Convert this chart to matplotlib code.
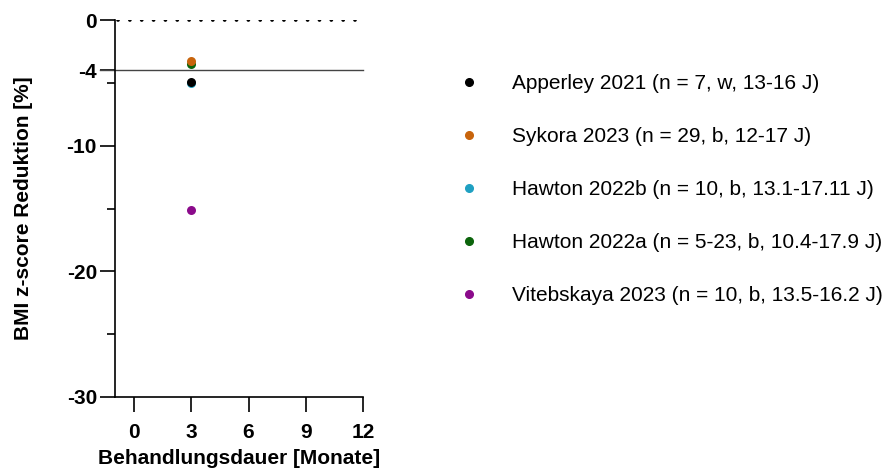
"""
BMI z-score reduction vs. treatment duration
"""
import matplotlib
matplotlib.use('Agg')
import matplotlib.pyplot as plt
from matplotlib.lines import Line2D

# -----------------------
# Data
# -----------------------
studies = ['Apperley 2021 (n = 7, w, 13-16 J)',
           'Sykora 2023 (n = 29, b, 12-17 J)',
           'Hawton 2022b (n = 10, b, 13.1-17.11 J)',
           'Hawton 2022a (n = 5-23, b, 10.4-17.9 J)',
           'Vitebskaya 2023 (n = 10, b, 13.5-16.2 J)']
months = [3, 3, 3, 3, 3]
reduction = [-4.9, -3.3, -5.0, -3.5, -15.1]
colors = ['#000000', '#c8640c', '#1fa0c2', '#0b640b', '#8b0a8b']
zorders = [5, 5, 4, 4, 4]

x_ticks = [0, 3, 6, 9, 12]
y_major = [0, -4, -10, -20, -30]
y_minor = [-5, -15, -25]
ref_line = -4

plt.rcParams['font.family'] = ['Liberation Sans', 'DejaVu Sans']
plt.rcParams['axes.unicode_minus'] = False

fig = plt.figure(figsize=(8.86, 4.70), dpi=100)
ax = fig.add_axes([115/886, 1-397/470, 248/886, 377/470])

for name, x, y, c, z in zip(studies, months, reduction, colors, zorders):
    ax.scatter([x], [y], s=42, color=c, zorder=z, linewidths=0)

# reference lines
ax.axhline(ref_line, xmin=-0.06, xmax=1, color='#444444', lw=1.0, clip_on=False, zorder=2)
ax.plot([-0.85, 11.6], [0, 0], color='black', ls=(0, (0.01, 3.15)), lw=2.7,
        dash_capstyle='round', zorder=2)

ax.set_xlim(-1, 12)
ax.set_ylim(-30, 0)
ax.set_xticks(x_ticks)
ax.set_yticks(y_major)
ax.set_yticks(y_minor, minor=True)

for s in ['top', 'right']:
    ax.spines[s].set_visible(False)
for s in ['left', 'bottom']:
    ax.spines[s].set_linewidth(1.2)

ax.tick_params(axis='both', which='major', length=11, width=1.2, labelsize=15)
ax.tick_params(axis='y', which='minor', length=5.5, width=1.2)
ax.tick_params(axis='y', which='major', pad=2)
ax.tick_params(axis='x', which='major', pad=8)
for lab in ax.get_xticklabels() + ax.get_yticklabels():
    lab.set_fontweight('bold')

ax.set_xlabel('Behandlungsdauer [Monate]', fontsize=15, fontweight='bold', labelpad=5)
ax.set_ylabel('BMI z-score Reduktion [%]', fontsize=15, fontweight='bold', labelpad=24)

handles = [Line2D([], [], marker='o', ls='none', color=c, markersize=5.5) for c in colors]
fig.legend(handles, studies, loc='upper left', bbox_to_anchor=(450/886, 1-66/470),
           frameon=False, fontsize=15, labelspacing=1.63, handletextpad=1.6,
           handlelength=1.0, borderaxespad=0)

plt.savefig('out.png', dpi=100)
